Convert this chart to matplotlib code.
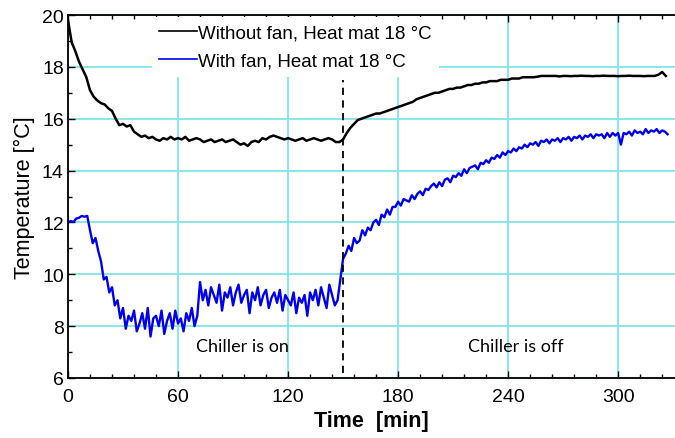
import matplotlib.pyplot as plt
import numpy as np

dt_black = 2.0   # min between samples
black_T = [19.8, 18.95, 18.6, 18.2, 17.9, 17.6, 17.1, 16.85, 16.7, 16.6,
           16.55, 16.4, 16.3, 16.0, 15.75, 15.8, 15.7, 15.75, 15.5, 15.4,
           15.3, 15.35, 15.25, 15.3, 15.2, 15.15, 15.25, 15.2, 15.3, 15.2,
           15.25, 15.2, 15.3, 15.15, 15.2, 15.25, 15.2, 15.1, 15.15, 15.2,
           15.1, 15.15, 15.2, 15.1, 15.15, 15.2, 15.1, 15.0, 15.05, 14.95,
           15.1, 15.15, 15.1, 15.25, 15.2, 15.3, 15.35, 15.3, 15.25, 15.2,
           15.25, 15.2, 15.15, 15.2, 15.25, 15.15, 15.2, 15.25, 15.2, 15.15,
           15.2, 15.25, 15.2, 15.1, 15.1, 15.2, 15.45, 15.65, 15.8, 15.95,
           16.0, 16.05, 16.1, 16.15, 16.2, 16.2, 16.25, 16.3, 16.35, 16.4,
           16.45, 16.5, 16.55, 16.6, 16.65, 16.75, 16.8, 16.85, 16.9, 16.95,
           17.0, 17.0, 17.05, 17.1, 17.15, 17.15, 17.2, 17.2, 17.25, 17.3,
           17.3, 17.35, 17.35, 17.4, 17.4, 17.45, 17.45, 17.45, 17.5, 17.5,
           17.5, 17.55, 17.55, 17.55, 17.6, 17.6, 17.6, 17.6, 17.62, 17.65,
           17.65, 17.65, 17.65, 17.65, 17.63, 17.65, 17.65, 17.64, 17.65, 17.65,
           17.66, 17.65, 17.65, 17.64, 17.65, 17.65, 17.66, 17.65, 17.65, 17.65,
           17.64, 17.65, 17.65, 17.66, 17.65, 17.65, 17.65, 17.64, 17.65, 17.65,
           17.65, 17.7, 17.8, 17.65]

dt_blue = 1.5
blue_T = [12.0, 12.05, 12.02, 12.15, 12.18, 12.25, 12.22, 12.25, 11.7, 11.2,
          11.4, 10.9, 10.5, 9.8, 9.9, 9.3, 9.5, 8.8, 9.0,
          # chiller on, no fan change yet
          8.3, 8.7, 7.9, 8.4, 8.2, 8.6, 7.8, 8.1, 8.5, 7.9,
          8.7, 7.6, 8.3, 8.4, 8.0, 8.6, 7.7, 8.2, 8.5, 7.9,
          8.6, 8.1, 8.3, 7.8, 8.5, 8.2, 8.7, 8.0, 8.4,
          # step up around 70 min
          9.7, 9.0, 9.4, 8.8, 9.5, 9.2, 8.9, 9.6, 8.6, 9.3,
          9.1, 9.5, 8.8, 9.3, 9.6, 8.9, 9.2, 9.4, 8.5, 9.3,
          9.0, 9.5, 8.8, 9.2, 9.4, 8.7, 9.1, 9.3, 8.9, 9.4,
          8.6, 9.2, 9.0, 8.8, 9.3, 8.5, 9.1, 8.9, 9.2, 8.4,
          9.3, 9.0, 9.4, 8.8, 9.5, 9.1, 8.7, 9.6, 9.2, 8.8,
          9.0,
          # chiller off
          9.8, 10.6, 10.8, 11.1, 10.9, 11.4, 11.2, 11.3, 11.7, 11.5,
          11.8, 11.7, 12.0, 12.1, 11.9, 12.3, 12.2, 12.5, 12.3, 12.6,
          12.6, 12.8, 12.65, 12.9, 12.85, 12.8, 13.05, 12.9, 13.1, 13.2,
          13.05, 13.3, 13.25, 13.4, 13.5, 13.35, 13.55, 13.4, 13.65, 13.7,
          13.55, 13.8, 13.75, 13.9, 13.8, 14.05, 13.9, 14.1, 14.15, 14.2,
          14.05, 14.3, 14.25, 14.4, 14.3, 14.5, 14.45, 14.6, 14.5, 14.7,
          14.6, 14.75, 14.7, 14.85, 14.75, 14.9, 14.85, 15.0, 14.9, 15.05,
          15.0, 15.1, 14.95, 15.15, 15.1, 15.2, 15.05, 15.2, 15.15, 15.25,
          15.1, 15.25, 15.2, 15.3, 15.15, 15.3, 15.25, 15.35, 15.2, 15.35,
          15.3, 15.4, 15.25, 15.4, 15.35, 15.4, 15.25, 15.45, 15.3, 15.45,
          15.35, 15.45, 15.0, 15.45, 15.4, 15.5, 15.35, 15.55, 15.45, 15.5,
          15.4, 15.6, 15.45, 15.55, 15.5, 15.6, 15.45, 15.55, 15.5, 15.4]

black_t = np.arange(len(black_T)) * dt_black
blue_t = np.arange(len(blue_T)) * dt_blue

chiller_off = 150
labels = ["Without fan, Heat mat 18 \u00b0C", "With fan, Heat mat 18 \u00b0C"]

plt.rcParams['font.family'] = ['Liberation Sans', 'DejaVu Sans']

fig = plt.figure(figsize=(6.75, 4.39), dpi=100)
ax = fig.add_axes([68/675, 60/439, 607/675, 363/439])

ax.plot(black_t, black_T, color='black', lw=1.8, label=labels[0])
ax.plot(blue_t, blue_T, color='#0000f0', lw=1.7, label=labels[1])
ax.vlines(chiller_off, 6.2, 17.5, colors='black', linestyles=(0, (4, 3)), lw=1.3)

ax.text(95, 7.25, "Chiller is on", ha='center', va='center', fontsize=13, family='Lato')
ax.text(244, 7.25, "Chiller is off", ha='center', va='center', fontsize=13, family='Lato')

ax.set_xlim(0, 331)
ax.set_ylim(6, 20)
ax.set_xticks([0, 60, 120, 180, 240, 300])
ax.set_xticks(np.arange(0, 331, 12), minor=True)
ax.set_yticks([6, 8, 10, 12, 14, 16, 18, 20])
ax.set_yticks(np.arange(6, 21, 1), minor=True)
ax.grid(True, which='major', color='#80e6e6', lw=1.3)
ax.set_axisbelow(True)

ax.tick_params(which='both', direction='in', top=True, right=False, labelsize=14, width=1)
ax.tick_params(which='major', length=5)
ax.tick_params(which='minor', length=3)
ax.tick_params(axis='x', pad=7)
ax.tick_params(axis='y', pad=3)
ax.spines['right'].set_visible(False)
for s in ['left', 'bottom', 'top']:
    ax.spines[s].set_linewidth(1.3)

ax.set_xlabel("Time  [min]", fontsize=15.5, fontweight='bold', labelpad=4)
ax.set_ylabel("Temperature [\u00b0C]", fontsize=15.5, labelpad=5)

leg = ax.legend(loc='upper left', bbox_to_anchor=(0.135, 1.0), fontsize=13.5,
                frameon=True, fancybox=False, framealpha=1, edgecolor='none',
                facecolor='white', handlelength=2.0, handletextpad=0.05,
                borderpad=0.4, labelspacing=0.6, borderaxespad=0.1)
for h in leg.get_lines():
    h.set_linewidth(1.2)

fig.savefig('out.png', dpi=100)
